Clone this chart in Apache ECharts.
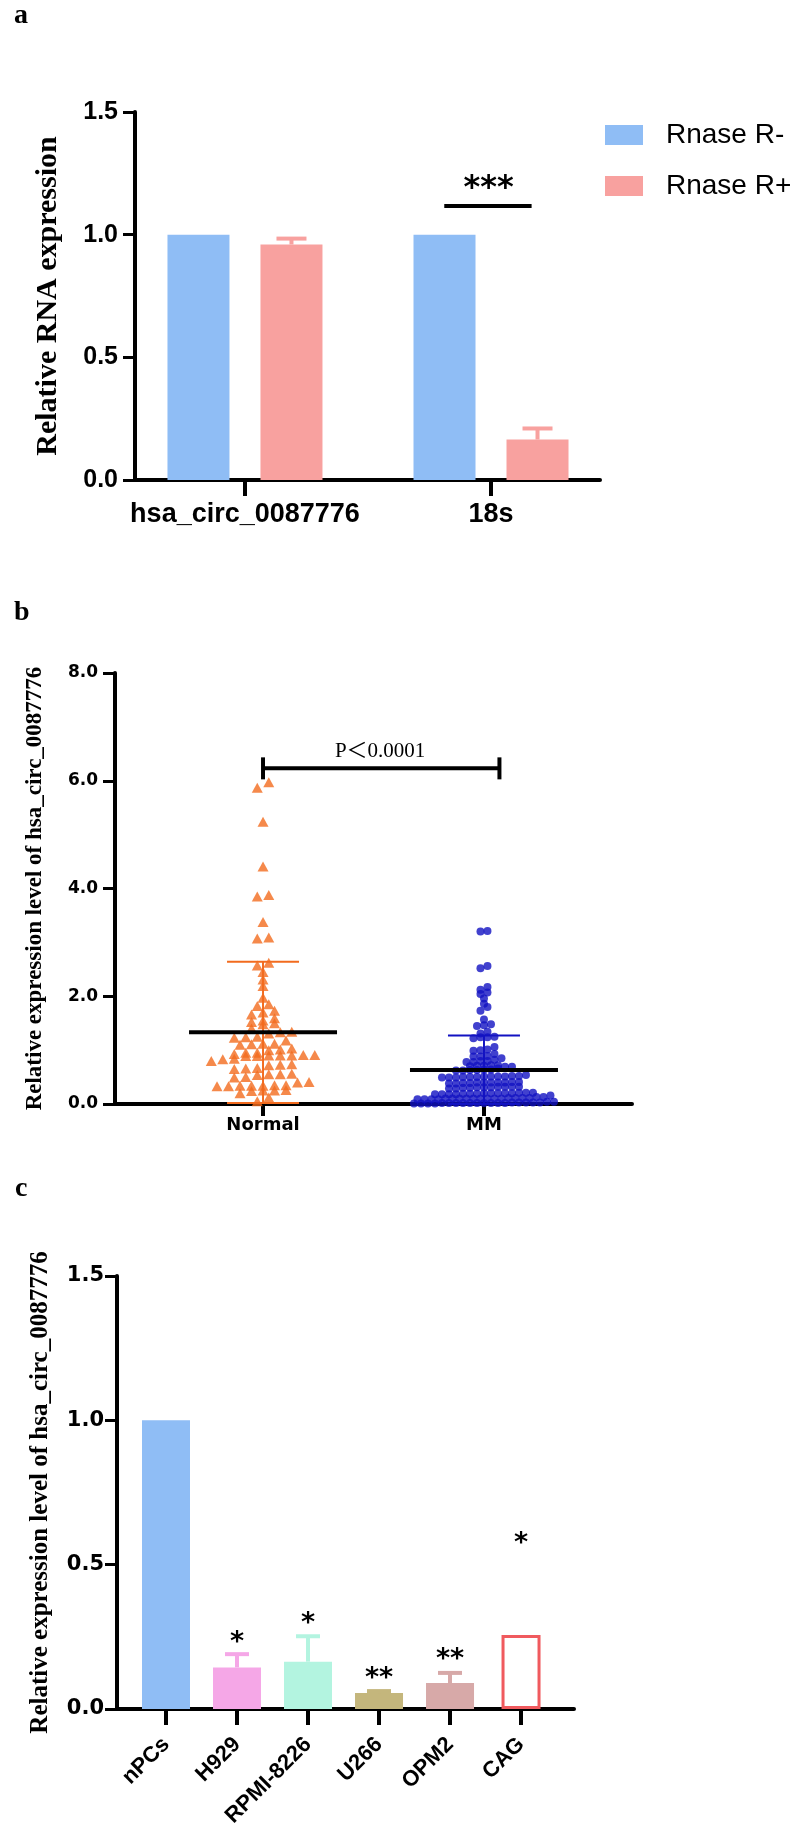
<!DOCTYPE html>
<html>
<head>
<meta charset="utf-8">
<script src="https://cdn.jsdelivr.net/npm/echarts@6/dist/echarts.min.js"></script>
<style>
  html, body { margin: 0; padding: 0; background: #fff; }
  #chart { width: 800px; height: 1829px; }
</style>
</head>
<body>
<div id="chart"></div>
<script>
// ---------- panel a : RNase R resistance ----------
const rnaTargets = ["hsa_circ_0087776", "18s"];
const rnaseMinus = [1.0, 1.0];
const rnasePlus = [0.96, 0.165];
const rnasePlusErr = [0.024, 0.045];
const rnaYTicks = [0, 0.5, 1.0, 1.5];
const rnaSigLine = [[0.81, 1.165, 1.117]]; // from x, to x, y
const rnaSigText = [[0.99, 1.215]];
const rnaSigLabels = ["***"];

// ---------- panel b : Normal vs MM ----------
const groups = ["Normal", "MM"];
const normalValues = [
  5.97, 5.87, 5.24, 4.41, 3.88, 3.85, 3.38, 3.09, 3.07,
  2.62, 2.57, 2.45, 2.31, 2.19, 1.97, 1.85, 1.82, 1.73, 1.70, 1.66,
  1.59, 1.55, 1.52, 1.50, 1.48, 1.40, 1.34, 1.33, 1.31, 1.25, 1.24, 1.23,
  1.18, 1.12, 1.12, 1.11, 1.10, 1.03, 1.01, 1.00, 0.95, 0.95, 0.93,
  0.91, 0.90, 0.90, 0.89, 0.90, 0.91, 0.89, 0.84, 0.83, 0.80,
  0.74, 0.73, 0.72, 0.67, 0.66, 0.65, 0.56, 0.55, 0.55, 0.54, 0.50, 0.49,
  0.41, 0.40, 0.35, 0.34, 0.34, 0.33, 0.35, 0.34, 0.33,
  0.26, 0.25, 0.25, 0.24, 0.20, 0.12, 0.05
];
const mmValues = [
  3.21, 3.20, 2.56, 2.52,
  2.17, 2.12, 2.07, 2.04, 1.96, 1.86, 1.80, 1.73, 1.57,
  1.48, 1.46, 1.45, 1.34, 1.31, 1.25, 1.24, 1.24, 1.22,
  1.06, 1.01, 1.00, 0.99, 0.93, 0.89, 0.88, 0.88,
  0.85, 0.82, 0.80, 0.80, 0.78, 0.78,
  0.72, 0.72, 0.71, 0.71, 0.70, 0.69, 0.69,
  0.66, 0.64, 0.64, 0.63, 0.63, 0.62, 0.62,
  0.54, 0.52, 0.52, 0.51, 0.51, 0.51, 0.51, 0.50, 0.50, 0.50, 0.49, 0.49, 0.49,
  0.41, 0.41, 0.40, 0.40, 0.40, 0.40, 0.40, 0.39, 0.39, 0.38, 0.38,
  0.32, 0.32, 0.32, 0.32, 0.31, 0.31, 0.31, 0.30, 0.30, 0.29, 0.29,
  0.21, 0.21, 0.21, 0.20, 0.20, 0.20, 0.20, 0.20, 0.19, 0.19, 0.19, 0.18, 0.18, 0.18, 0.18,
  0.16, 0.13, 0.13, 0.11, 0.11, 0.11, 0.11, 0.10, 0.10, 0.10, 0.10, 0.10, 0.10, 0.10, 0.10, 0.10, 0.09, 0.09, 0.09, 0.09,
  0.04, 0.04, 0.03, 0.03, 0.03, 0.03, 0.03, 0.02, 0.02, 0.02, 0.02, 0.02, 0.02, 0.02, 0.02, 0.02, 0.02, 0.01, 0.01, 0.01, 0.01
];
const groupMean = [1.33, 0.63];
const groupSD = [1.31, 0.64];
const groupYTicks = [0, 2, 4, 6, 8];
const pBracket = [[0, 1.07, 6.23]];
const pText = [[0.53, 6.55]];
const pLabels = ["P\uFF1C0.0001"];

// ---------- panel c : cell lines ----------
const cellLines = ["nPCs", "H929", "RPMI-8226", "U266", "OPM2", "CAG"];
const cellValues = [1.0, 0.144, 0.164, 0.055, 0.09, 0.256];
const cellErr = [0, 0.046, 0.088, 0.007, 0.035, 0];
const cellStars = ["", "*", "*", "**", "**", "*"];
const cellStarY = [null, 0.25, 0.315, 0.125, 0.19, 0.59];
const cellYTicks = [0, 0.5, 1.0, 1.5];

// ---------- styling ----------
const SANS = '"DejaVu Sans", Arial, sans-serif';
const ARIAL = '"Liberation Sans", Arial, sans-serif';
const SERIF = '"Liberation Serif", "Times New Roman", serif';
const BLUE = "#8fbdf5";
const PINK = "#f8a19f";
const ORANGE = "#f26b1e";
const DARKBLUE = "#1212c2";
const cellColors = ["#8fbdf5", "#f5a7e7", "#b3f4e0", "#c4b67c", "#d7a9a8", "#f05a5e"];
const cellHollow = [false, false, false, false, false, true];

const gridA = { left: 135, top: 112, width: 465, height: 368 };
const gridB = { left: 115, top: 673, width: 517, height: 431 };
const gridC = { left: 117, top: 1276, width: 457, height: 433 };
const xRangeA = [-0.447, 1.443];
const xRangeB = [-0.67, 1.67];
const xRangeC = [-0.69, 5.746];

const pxPerXB = gridB.width / (xRangeB[1] - xRangeB[0]);
const pxPerYB = gridB.height / 8;

// GraphPad-like dot layout: values binned into rows, each row centred on the group
function dotLayout(values, groupIndex, rowPx, dotPx) {
  const sorted = values.slice().sort((a, b) => a - b);
  const rows = [];
  let cur = null;
  sorted.forEach((v) => {
    if (!cur || (v - cur.start) * pxPerYB > rowPx) {
      cur = { start: v, items: [] };
      rows.push(cur);
    }
    cur.items.push(v);
  });
  const pts = [];
  rows.forEach((r) => {
    const n = r.items.length;
    r.items.forEach((v, k) => {
      pts.push([groupIndex + ((k - (n - 1) / 2) * dotPx) / pxPerXB, v]);
    });
  });
  return pts;
}

function yAxisFor(gridIndex, ticks, font, fontSize, name, nameSize, nameGap, margin) {
  return {
    type: "value",
    gridIndex,
    min: ticks[0],
    max: ticks[ticks.length - 1],
    interval: ticks[1] - ticks[0],
    name,
    nameLocation: "middle",
    nameRotate: 90,
    nameGap,
    nameTextStyle: { fontFamily: SERIF, fontWeight: "bold", fontSize: nameSize, color: "#000" },
    axisLine: { show: true, onZero: false, lineStyle: { color: "#000", width: 4 } },
    axisTick: { show: true, length: 12, lineStyle: { color: "#000", width: 3 } },
    axisLabel: {
      margin,
      fontFamily: font,
      fontWeight: "bold",
      fontSize,
      color: "#000",
      formatter: (v) => v.toFixed(1),
    },
    splitLine: { show: false },
  };
}

function xAxisFor(gridIndex, range, names, tickLen, label) {
  const idx = names.map((_, i) => i);
  return {
    type: "value",
    gridIndex,
    min: range[0],
    max: range[1],
    axisLine: { show: true, onZero: false, lineStyle: { color: "#000", width: 4 } },
    axisTick: { show: true, customValues: idx, length: tickLen, lineStyle: { color: "#000", width: 4 } },
    axisLabel: Object.assign(
      {
        customValues: idx,
        fontFamily: SANS,
        fontWeight: "bold",
        color: "#000",
        formatter: (v) => names[Math.round(v)],
      },
      label
    ),
    splitLine: { show: false },
  };
}

function errorBarRender(offsetPx, capHalf) {
  return function (params, api) {
    const x = api.value(0);
    const lo = api.coord([x, api.value(1)]);
    const hi = api.coord([x, api.value(2)]);
    const cx = lo[0] + offsetPx;
    const color = api.visual("color");
    return {
      type: "group",
      children: [
        { type: "line", shape: { x1: cx, y1: lo[1], x2: cx, y2: hi[1] }, style: { stroke: color, lineWidth: 4 } },
        { type: "line", shape: { x1: cx - capHalf, y1: hi[1], x2: cx + capHalf, y2: hi[1] }, style: { stroke: color, lineWidth: 4 } },
      ],
    };
  };
}

function textRender(labels, font, fontSize, shift) {
  return function (params, api) {
    const p = api.coord([api.value(0), api.value(1)]);
    return {
      type: "text",
      x: p[0],
      y: p[1] + shift * fontSize,
      style: {
        text: labels[params.dataIndex],
        font: font,
        fill: "#000",
        align: "center",
        verticalAlign: "middle",
      },
    };
  };
}

const chart = echarts.init(document.getElementById("chart"), null, { renderer: "canvas" });

const pinkOffset = (62 + 31) / 2;

const option = {
  animation: false,
  backgroundColor: "#fff",
  title: [
    { text: "a", left: 14, top: 2 },
    { text: "b", left: 14, top: 599 },
    { text: "c", left: 15, top: 1175 },
  ].map((t) =>
    Object.assign(t, {
      padding: 0,
      textStyle: { fontFamily: SERIF, fontWeight: "bold", fontSize: 28, color: "#000" },
    })
  ),
  legend: {
    data: ["Rnase R-", "Rnase R+"],
    orient: "vertical",
    left: 600,
    top: 116,
    itemWidth: 38,
    itemHeight: 20,
    itemGap: 23,
    icon: "rect",
    selectedMode: false,
    textStyle: {
      fontFamily: ARIAL,
      fontSize: 28,
      color: "#000",
      padding: [0, 0, 0, 18],
    },
  },
  grid: [gridA, gridB, gridC].map((g) =>
    Object.assign({ containLabel: false, outerBoundsMode: "none" }, g)
  ),
  xAxis: [
    xAxisFor(0, xRangeA, rnaTargets, 16, { fontFamily: ARIAL, fontSize: 27, margin: 21 }),
    xAxisFor(1, xRangeB, groups, 12, { fontSize: 18, margin: 12 }),
    xAxisFor(2, xRangeC, cellLines, 16, { fontFamily: ARIAL, fontSize: 22, margin: 32, rotate: 45 }),
    // separate base axis so the hollow CAG bar can have its own width
    { type: "value", gridIndex: 2, min: xRangeC[0], max: xRangeC[1], show: false },
  ],
  yAxis: [
    yAxisFor(0, rnaYTicks, ARIAL, 25, "Relative RNA expression", 30, 72, 17),
    yAxisFor(1, groupYTicks, SANS, 17, "Relative expression level of hsa_circ_0087776", 23, 68, 17),
    yAxisFor(2, cellYTicks, SANS, 21, "Relative expression level of hsa_circ_0087776", 25, 64, 13),
  ],
  series: [
    // ----- a -----
    {
      name: "Rnase R-",
      type: "bar",
      xAxisIndex: 0,
      yAxisIndex: 0,
      barWidth: 62,
      barGap: "50%",
      itemStyle: { color: BLUE },
      data: rnaseMinus.map((v, i) => [i, v]),
    },
    {
      name: "Rnase R+",
      type: "bar",
      xAxisIndex: 0,
      yAxisIndex: 0,
      barWidth: 62,
      barGap: "50%",
      itemStyle: { color: PINK },
      data: rnasePlus.map((v, i) => [i, v]),
    },
    {
      type: "custom",
      xAxisIndex: 0,
      yAxisIndex: 0,
      itemStyle: { color: PINK },
      renderItem: errorBarRender(pinkOffset, 15),
      data: rnasePlus.map((v, i) => [i, v, v + rnasePlusErr[i]]),
      z: 3,
    },
    {
      type: "custom",
      xAxisIndex: 0,
      yAxisIndex: 0,
      renderItem: function (params, api) {
        const a = api.coord([api.value(0), api.value(2)]);
        const b = api.coord([api.value(1), api.value(2)]);
        return { type: "line", shape: { x1: a[0], y1: a[1], x2: b[0], y2: b[1] }, style: { stroke: "#000", lineWidth: 4 } };
      },
      data: rnaSigLine,
    },
    {
      type: "custom",
      xAxisIndex: 0,
      yAxisIndex: 0,
      renderItem: textRender(rnaSigLabels, "bold 32px " + SANS, 32, 0.21),
      data: rnaSigText,
    },
    // ----- b -----
    {
      name: "Normal",
      type: "scatter",
      xAxisIndex: 1,
      yAxisIndex: 1,
      symbol: "triangle",
      symbolSize: [11, 10],
      itemStyle: { color: ORANGE },
      data: dotLayout(normalValues, 0, 6, 11.5),
    },
    {
      name: "MM",
      type: "scatter",
      xAxisIndex: 1,
      yAxisIndex: 1,
      symbol: "circle",
      symbolSize: 8,
      itemStyle: { color: DARKBLUE },
      data: dotLayout(mmValues, 1, 4, 7),
    },
    {
      type: "custom",
      xAxisIndex: 1,
      yAxisIndex: 1,
      z: 5,
      renderItem: function (params, api) {
        const x = api.value(0);
        const m = api.value(1);
        const sd = api.value(2);
        const pm = api.coord([x, m]);
        const pHi = api.coord([x, m + sd]);
        const pLo = api.coord([x, Math.max(0, m - sd)]);
        const c = api.visual("color");
        const cx = pm[0];
        return {
          type: "group",
          children: [
            { type: "line", shape: { x1: cx, y1: pLo[1], x2: cx, y2: pHi[1] }, style: { stroke: c, lineWidth: 2 } },
            { type: "line", shape: { x1: cx - 36, y1: pHi[1], x2: cx + 36, y2: pHi[1] }, style: { stroke: c, lineWidth: 2 } },
            { type: "line", shape: { x1: cx - 36, y1: pLo[1], x2: cx + 36, y2: pLo[1] }, style: { stroke: c, lineWidth: 2 } },
            { type: "line", shape: { x1: cx - 74, y1: pm[1], x2: cx + 74, y2: pm[1] }, style: { stroke: "#000", lineWidth: 4 } },
          ],
        };
      },
      data: groupMean.map((m, i) => ({
        value: [i, m, groupSD[i]],
        itemStyle: { color: i === 0 ? ORANGE : DARKBLUE },
      })),
    },
    {
      type: "custom",
      xAxisIndex: 1,
      yAxisIndex: 1,
      renderItem: function (params, api) {
        const y = api.value(2);
        const a = api.coord([api.value(0), y]);
        const b = api.coord([api.value(1), y]);
        const s = { stroke: "#000", lineWidth: 4 };
        return {
          type: "group",
          children: [
            { type: "line", shape: { x1: a[0], y1: a[1], x2: b[0], y2: b[1] }, style: s },
            { type: "line", shape: { x1: a[0], y1: a[1] - 11, x2: a[0], y2: a[1] + 11 }, style: s },
            { type: "line", shape: { x1: b[0], y1: b[1] - 11, x2: b[0], y2: b[1] + 11 }, style: s },
          ],
        };
      },
      data: pBracket,
    },
    {
      type: "custom",
      xAxisIndex: 1,
      yAxisIndex: 1,
      renderItem: textRender(pLabels, '21px "Liberation Serif", "Noto Sans CJK SC", serif', 21, 0),
      data: pText,
    },
    // ----- c -----
    {
      type: "bar",
      xAxisIndex: 2,
      yAxisIndex: 2,
      barWidth: 48,
      data: cellValues
        .map((v, i) => ({ value: [i, v], itemStyle: { color: cellColors[i] } }))
        .filter((d, i) => !cellHollow[i]),
    },
    {
      type: "bar",
      xAxisIndex: 3,
      yAxisIndex: 2,
      barWidth: 39,
      data: cellValues
        .map((v, i) => ({
          value: [i, v],
          itemStyle: { color: "#fff", borderColor: cellColors[i], borderWidth: 3 },
        }))
        .filter((d, i) => cellHollow[i]),
    },
    {
      type: "custom",
      xAxisIndex: 2,
      yAxisIndex: 2,
      z: 3,
      renderItem: errorBarRender(0, 12),
      data: cellValues
        .map((v, i) => ({ value: [i, v, v + cellErr[i]], itemStyle: { color: cellColors[i] } }))
        .filter((d, i) => cellErr[i] > 0),
    },
    {
      type: "custom",
      xAxisIndex: 2,
      yAxisIndex: 2,
      renderItem: textRender(
        cellStars.filter((s) => s),
        "bold 27px " + SANS,
        27,
        0.21
      ),
      data: cellStarY.map((y, i) => [i, y]).filter((d) => d[1] !== null),
    },
  ],
};

chart.setOption(option);
</script>
</body>
</html>
